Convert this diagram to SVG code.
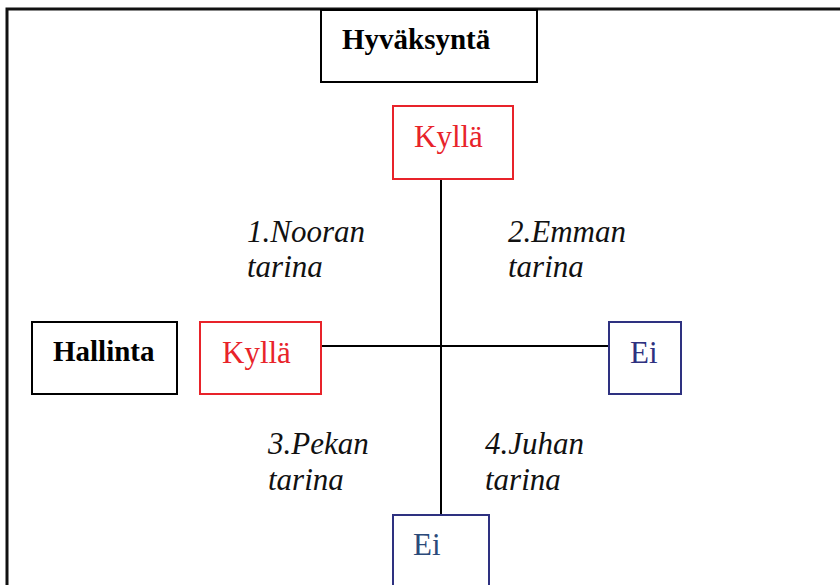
<svg xmlns="http://www.w3.org/2000/svg" width="840" height="585" viewBox="0 0 840 585">
<style>
.box{fill:#fff;stroke-width:2}
.blk{stroke:#000}
.red{stroke:#e8232a}
.navy{stroke:#2e3180}
.t{font-family:"Liberation Serif","Times New Roman",serif;font-size:31px}
.b{font-weight:bold;font-size:29px;fill:#000}
.i{font-style:italic;fill:#111}
.tr{fill:#e8232a}
.tn{fill:#2e3180}
.conn{stroke:#000;stroke-width:2;fill:none}
</style>
<rect width="840" height="585" fill="#fff"/>
<g id="frame"><path d="M7,585 V9 H840" fill="none" stroke="#111" stroke-width="3"/></g>
<g id="connectors">
<line class="conn" x1="441" y1="179" x2="441" y2="515"/>
<line class="conn" x1="321" y1="346" x2="609" y2="346"/>
</g>
<g id="hyvaksynta"><rect class="box blk" x="321" y="10" width="216" height="72"/><text class="t b" x="342" y="49">Hyväksyntä</text></g>
<g id="kylla-top"><rect class="box red" x="393" y="106" width="120" height="73"/><text class="t tr" x="414" y="147">Kyllä</text></g>
<g id="hallinta"><rect class="box blk" x="32" y="322" width="145" height="72"/><text class="t b" x="53" y="361">Hallinta</text></g>
<g id="kylla-left"><rect class="box red" x="200" y="322" width="121" height="72"/><text class="t tr" x="222" y="363">Kyllä</text></g>
<g id="ei-right"><rect class="box navy" x="609" y="322" width="72" height="72"/><text class="t tn" x="630" y="363">Ei</text></g>
<g id="ei-bottom"><rect class="box navy" x="393" y="515" width="96" height="80"/><text class="t" x="413" y="555" fill="#2b4a7a">Ei</text></g>
<g id="labels">
<text class="t i" x="247" y="242">1.Nooran</text><text class="t i" x="247" y="277">tarina</text>
<text class="t i" x="508" y="242">2.Emman</text><text class="t i" x="508" y="277">tarina</text>
<text class="t i" x="268" y="454">3.Pekan</text><text class="t i" x="268" y="490">tarina</text>
<text class="t i" x="485" y="454">4.Juhan</text><text class="t i" x="485" y="490">tarina</text>
</g>
</svg>
